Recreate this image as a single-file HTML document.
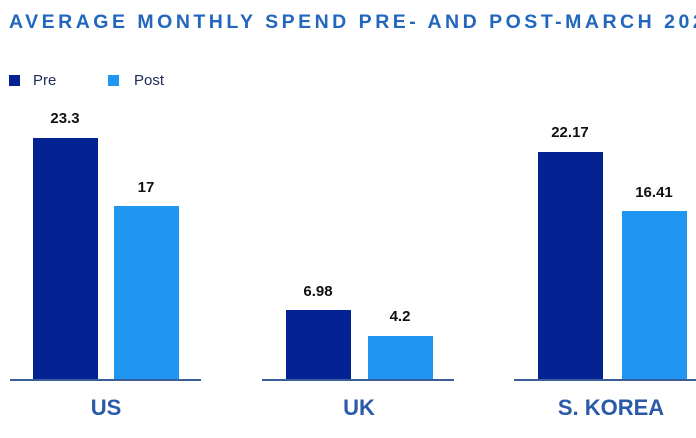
<!DOCTYPE html>
<html><head><style>
body{margin:0;width:696px;height:438px;background:#fff;position:relative;overflow:hidden;font-family:"Liberation Sans",sans-serif}
.a{position:absolute}
.t{left:9px;top:11px;font-size:19.5px;font-weight:bold;letter-spacing:3.5px;color:#2267bd;white-space:nowrap}
.sq{width:11px;height:11px}
.lg{font-size:15px;color:#1c2a55}
.pre{background:#052293}.post{background:#2196f0}
.v{font-size:15px;font-weight:bold;color:#111;text-align:center;width:80px}
.base{height:2px;background:#3a5f96;top:379px}
.c{font-size:22px;font-weight:bold;color:#2a5aa8;text-align:center;top:395px}
</style></head><body>
<div class="a t">AVERAGE MONTHLY SPEND PRE- AND POST-MARCH 2020</div>
<div class="a sq pre" style="left:9px;top:75px"></div><div class="a lg" style="left:33px;top:72px">Pre</div>
<div class="a sq post" style="left:108px;top:75px"></div><div class="a lg" style="left:134px;top:72px">Post</div>

<div class="a pre" style="left:33px;top:138px;width:65px;height:242px"></div>
<div class="a post" style="left:114px;top:206px;width:65px;height:174px"></div>
<div class="a v" style="left:25px;top:110px">23.3</div>
<div class="a v" style="left:106px;top:179px">17</div>

<div class="a pre" style="left:286px;top:310px;width:65px;height:70px"></div>
<div class="a post" style="left:368px;top:336px;width:65px;height:44px"></div>
<div class="a v" style="left:278px;top:283px">6.98</div>
<div class="a v" style="left:360px;top:308px">4.2</div>

<div class="a pre" style="left:538px;top:152px;width:65px;height:228px"></div>
<div class="a post" style="left:622px;top:211px;width:65px;height:169px"></div>
<div class="a v" style="left:530px;top:124px">22.17</div>
<div class="a v" style="left:614px;top:184px">16.41</div>

<div class="a base" style="left:10px;width:191px"></div>
<div class="a base" style="left:262px;width:192px"></div>
<div class="a base" style="left:514px;width:182px"></div>

<div class="a c" style="left:56px;width:100px">US</div>
<div class="a c" style="left:309px;width:100px">UK</div>
<div class="a c" style="left:531px;width:160px">S. KOREA</div>
</body></html>
